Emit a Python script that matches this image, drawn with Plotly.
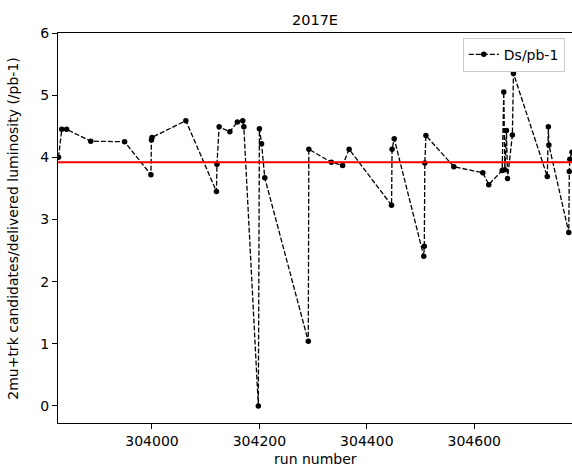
import plotly.graph_objects as go

# Run-by-run yield of 2mu+trk (Ds) candidates per delivered luminosity, 2017E
run_number = [
    303826, 303832, 303841, 303886, 303949, 303998, 303999, 304000,
    304063, 304120, 304121, 304125, 304145, 304159, 304169, 304171,
    304198, 304200, 304204, 304210, 304291, 304292, 304334, 304355,
    304367, 304446, 304447, 304451, 304506, 304507, 304508, 304510,
    304562, 304616, 304627, 304652, 304655, 304657, 304660, 304662,
    304671, 304673, 304736, 304738, 304739, 304776, 304777, 304778,
    304782,
]
ds_per_pb = [
    4.00, 4.45, 4.45, 4.26, 4.25, 3.72, 4.28, 4.32,
    4.59, 3.45, 3.89, 4.49, 4.41, 4.57, 4.59, 4.49,
    0.00, 4.46, 4.22, 3.67, 1.04, 4.13, 3.92, 3.87,
    4.13, 3.23, 4.13, 4.30, 2.41, 2.57, 3.91, 4.35,
    3.85, 3.75, 3.56, 3.79, 5.05, 3.80, 4.43, 3.66,
    4.36, 5.35, 3.69, 4.49, 4.20, 2.79, 3.77, 3.97,
    4.08,
]
average_yield = 3.92

x_ticks = [304000, 304200, 304400, 304600]
y_ticks = [0, 1, 2, 3, 4, 5, 6]

FONT = "DejaVu Sans"

fig = go.Figure()
fig.add_trace(go.Scatter(
    x=run_number, y=ds_per_pb,
    mode="lines+markers",
    name="Ds/pb-1",
    line=dict(color="black", width=1.3, dash="5px,2px"),
    marker=dict(color="black", size=5.5),
))

# mean yield across the era
fig.add_shape(
    type="line", xref="paper", x0=0, x1=1, yref="y",
    y0=average_yield, y1=average_yield,
    line=dict(color="red", width=2),
)

fig.update_layout(
    width=572, height=467,
    margin=dict(l=58, r=0, t=33, b=44),
    paper_bgcolor="white", plot_bgcolor="white",
    font=dict(family=FONT, size=14, color="black"),
    title=dict(text="2017E", x=0.5, xref="paper", y=1 - 20 / 467,
               yref="container", xanchor="center", yanchor="middle",
               font=dict(family=FONT, size=14.5, color="black")),
    showlegend=True,
    legend=dict(x=0.986, y=0.988, xanchor="right", yanchor="top",
                bgcolor="rgba(255,255,255,0.8)", bordercolor="#cccccc",
                borderwidth=1, font=dict(family=FONT, size=14)),
    annotations=[
        dict(text="run number", xref="paper", yref="paper", x=0.5, y=-0.093,
             xanchor="center", yanchor="middle", showarrow=False,
             font=dict(family=FONT, size=14)),
        dict(text="2mu+trk candidates/delivered luminosity (/pb-1)",
             xref="paper", yref="paper", x=-0.088, y=0.5, textangle=-90,
             xanchor="center", yanchor="middle", showarrow=False,
             font=dict(family=FONT, size=14)),
    ],
)

fig.update_xaxes(
    range=[303825, 304782], tickvals=x_ticks,
    ticktext=[str(v) for v in x_ticks],
    showgrid=False, zeroline=False,
    showline=True, linecolor="black", linewidth=1, mirror=True,
    ticks="outside", ticklen=5, tickcolor="black",
)
fig.update_yaxes(
    range=[-0.274, 6], tickvals=y_ticks,
    showgrid=False, zeroline=False,
    showline=True, linecolor="black", linewidth=1,
    ticks="outside", ticklen=5, tickcolor="black",
)

fig.write_html("out.html")
